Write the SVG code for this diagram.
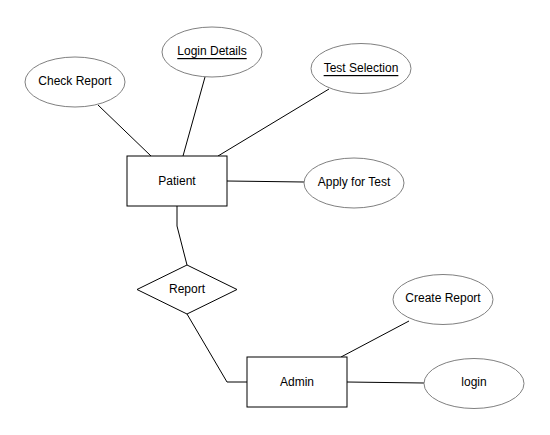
<svg xmlns="http://www.w3.org/2000/svg" width="550" height="435" viewBox="0 0 550 435">
<style>
.ent{fill:#fff;stroke:#000;stroke-width:1}
.att{fill:#fff;stroke:#808080;stroke-width:1}
.rel{fill:#fff;stroke:#000;stroke-width:1}
.con{fill:none;stroke:#000;stroke-width:1}
text{font-family:"Liberation Sans",Arial,sans-serif;font-size:12px;fill:#000;text-anchor:middle;dominant-baseline:central}
.u{text-decoration:underline}
</style>
<rect width="550" height="435" fill="#fff"/>
<g id="connectors">
<line class="con" x1="98" y1="105" x2="151" y2="156"/>
<line class="con" x1="205" y1="77" x2="183" y2="156"/>
<line class="con" x1="329" y1="89" x2="218" y2="156"/>
<line class="con" x1="227" y1="181" x2="304" y2="182"/>
<polyline class="con" points="177,206 177,226 187,265"/>
<polyline class="con" points="187,314 227,382 247,382"/>
<line class="con" x1="409" y1="321" x2="341" y2="357"/>
<line class="con" x1="347" y1="382" x2="424" y2="383"/>
</g>
<g id="patient"><rect class="ent" x="127" y="156" width="100" height="50"/><text x="177" y="181">Patient</text></g>
<g id="admin"><rect class="ent" x="247" y="357" width="100" height="50"/><text x="297" y="382">Admin</text></g>
<g id="report"><polygon class="rel" points="187,265 237,289.5 187,314 137,289.5"/><text x="187" y="289">Report</text></g>
<g id="check-report"><ellipse class="att" cx="75" cy="82" rx="50" ry="25"/><text x="75" y="81">Check Report</text></g>
<g id="login-details"><ellipse class="att" cx="212" cy="52" rx="50" ry="25"/><text class="u" x="212" y="51">Login Details</text></g>
<g id="test-selection"><ellipse class="att" cx="361" cy="68.5" rx="50" ry="25"/><text class="u" x="361" y="68">Test Selection</text></g>
<g id="apply-for-test"><ellipse class="att" cx="354" cy="183" rx="50" ry="25"/><text x="354" y="182">Apply for Test</text></g>
<g id="create-report"><ellipse class="att" cx="443" cy="299.5" rx="50" ry="25"/><text x="443" y="298">Create Report</text></g>
<g id="login"><ellipse class="att" cx="474" cy="383.5" rx="50" ry="25"/><text x="474" y="382">login</text></g>
</svg>
